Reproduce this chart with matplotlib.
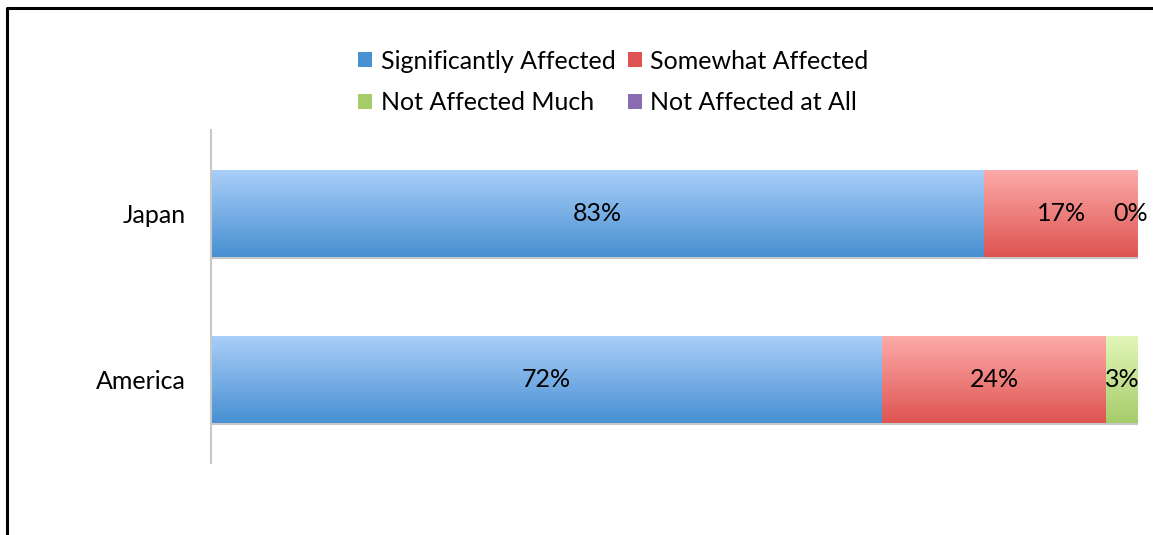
import matplotlib.pyplot as plt
import numpy as np
from matplotlib.patches import Patch
from matplotlib.colors import LinearSegmentedColormap
from matplotlib.lines import Line2D

plt.rcParams['font.family'] = ['Lato', 'DejaVu Sans']

# datos
paises = ["America", "Japan"]
series = ["Significantly Affected", "Somewhat Affected",
          "Not Affected Much", "Not Affected at All"]
valores = {
    "Significantly Affected": [72.4, 83.4],
    "Somewhat Affected": [24.2, 16.6],
    "Not Affected Much": [3.4, 0.0],
    "Not Affected at All": [None, None],
}

# colores degradados (arriba, abajo)
colores = {
    "Significantly Affected": ("#a9cef8", "#4790d2"),
    "Somewhat Affected": ("#fcaaa8", "#de5452"),
    "Not Affected Much": ("#e2f7b8", "#a6cc6a"),
    "Not Affected at All": ("#b9a3d9", "#8a6cb3"),
}

fs = 18

fig = plt.figure(figsize=(11.53, 5.35), dpi=100)
ax = fig.add_axes([211 / 1153, 72 / 535, 927 / 1153, 333 / 535])

y = np.arange(len(paises))
alto = 0.52
izq = np.zeros(len(paises))

for s in series:
    vals = np.array([np.nan if v is None else v for v in valores[s]])
    c_top, c_bot = colores[s]
    cmap = LinearSegmentedColormap.from_list(s, [c_bot, c_top])
    grad = np.linspace(0, 1, 100).reshape(-1, 1)
    for i, v in enumerate(vals):
        if np.isnan(v):
            continue
        if v > 0:
            ax.imshow(grad, cmap=cmap, aspect='auto', origin='lower',
                      extent=[izq[i], izq[i] + v, y[i] - alto / 2, y[i] + alto / 2],
                      zorder=2)
            # sombra
            ax.plot([izq[i], izq[i] + v], [y[i] - alto / 2 - 0.008] * 2,
                    color="#c8c8c8", lw=1.5, zorder=1)
        xc = izq[i] + v / 2
        if v == 0:
            xc = izq[i] - 0.8
        ax.text(xc, y[i], f"{v:.0f}%", ha='center', va='center',
                fontsize=fs, color='black', zorder=3)
        izq[i] += v

ax.set_xlim(0, 100)
ax.set_ylim(-0.5, 1.5)
ax.set_yticks(y)
ax.set_yticklabels(paises, fontsize=fs)
ax.tick_params(axis='y', length=0, pad=18)
ax.set_xticks([])
for lado in ['top', 'right', 'bottom']:
    ax.spines[lado].set_visible(False)
ax.spines['left'].set_color('#c8c8c8')
ax.spines['left'].set_linewidth(1.5)

# leyenda (orden por filas)
handles = [Patch(facecolor=colores[s][1], edgecolor='none') for s in series]
orden = [0, 2, 1, 3]
fig.legend([handles[k] for k in orden], [series[k] for k in orden],
           ncol=2, loc='center', bbox_to_anchor=(0.532, 1 - 82 / 535),
           frameon=False, fontsize=fs, handlelength=0.55, handleheight=0.55,
           handletextpad=0.35, columnspacing=0.5, labelspacing=0.75)

# marco
fig.add_artist(Line2D([7 / 1153, 7 / 1153, 1], [0, 1 - 8 / 535, 1 - 8 / 535],
                      transform=fig.transFigure, color='black', lw=2.2))

fig.savefig("out.png", dpi=100)
